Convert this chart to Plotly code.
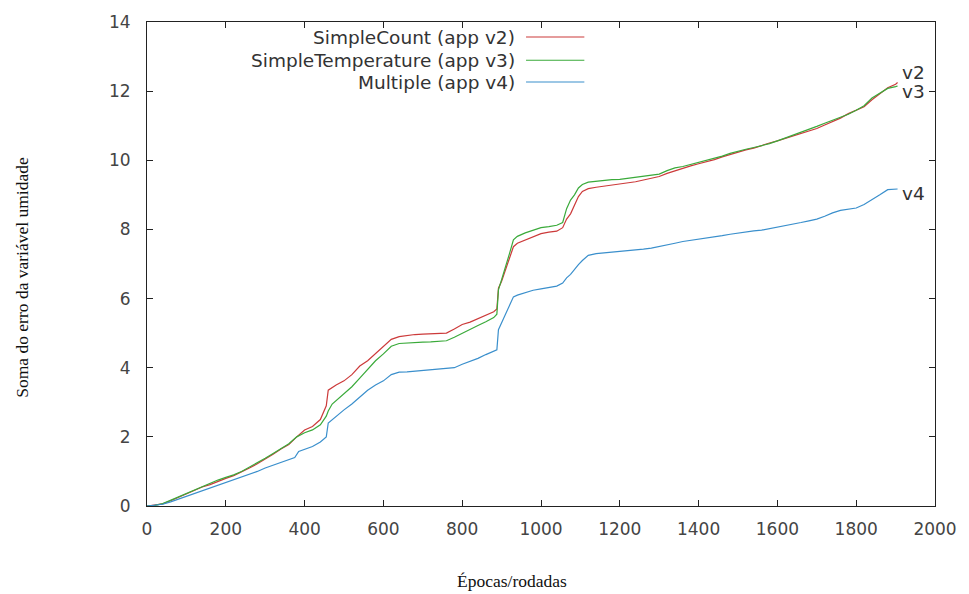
import plotly.graph_objects as go

# ---- data ----
x_v2 = [0,20,40,60,80,100,120,140,160,180,200,220,240,260,280,300,320,340,360,380,400,420,440,455,460,480,500,520,540,560,580,600,620,640,660,680,700,720,740,760,780,800,820,840,860,880,888,892,900,910,920,930,940,960,980,1000,1020,1040,1055,1065,1075,1085,1095,1105,1120,1140,1160,1180,1200,1220,1240,1260,1280,1300,1320,1340,1360,1380,1400,1420,1440,1460,1480,1500,1520,1540,1560,1580,1600,1620,1640,1660,1680,1700,1720,1740,1760,1780,1800,1820,1840,1860,1880,1900,1905]
y_v2 = [0,0.02,0.06,0.15,0.25,0.35,0.45,0.55,0.62,0.72,0.8,0.88,0.98,1.1,1.22,1.35,1.5,1.65,1.78,2.0,2.2,2.3,2.5,2.9,3.35,3.5,3.62,3.8,4.05,4.2,4.4,4.6,4.82,4.9,4.94,4.96,4.97,4.98,4.99,5.0,5.12,5.25,5.32,5.42,5.5,5.62,5.7,6.3,6.5,6.85,7.2,7.5,7.6,7.7,7.8,7.88,7.92,7.95,8.05,8.3,8.45,8.7,8.95,9.1,9.18,9.22,9.25,9.27,9.3,9.35,9.38,9.43,9.48,9.53,9.62,9.7,9.78,9.84,9.9,9.95,10.02,10.1,10.17,10.25,10.3,10.35,10.43,10.5,10.56,10.63,10.7,10.78,10.85,10.92,11.02,11.12,11.22,11.35,11.45,11.55,11.75,11.92,12.1,12.2,12.25]

x_v3 = [0,20,40,60,80,100,120,140,160,180,200,220,240,260,280,300,320,340,360,380,400,420,440,455,460,470,480,500,520,540,560,580,600,620,640,660,680,700,720,740,760,780,800,820,840,860,880,888,892,900,910,920,930,940,960,980,1000,1020,1040,1055,1065,1075,1085,1095,1105,1120,1140,1160,1180,1200,1220,1240,1260,1280,1300,1320,1340,1360,1380,1400,1420,1440,1460,1480,1500,1520,1540,1560,1580,1600,1620,1640,1660,1680,1700,1720,1740,1760,1780,1800,1820,1840,1860,1880,1900,1905]
y_v3 = [0,0.02,0.07,0.17,0.27,0.37,0.47,0.57,0.65,0.75,0.83,0.9,1.0,1.12,1.25,1.38,1.52,1.66,1.8,2.0,2.12,2.2,2.35,2.6,2.75,2.95,3.05,3.25,3.45,3.7,3.95,4.2,4.4,4.62,4.7,4.72,4.73,4.74,4.75,4.76,4.78,4.88,5.0,5.1,5.22,5.33,5.45,5.55,6.25,6.55,6.9,7.3,7.7,7.8,7.9,7.98,8.05,8.08,8.12,8.2,8.6,8.85,9.0,9.2,9.3,9.37,9.4,9.42,9.44,9.45,9.48,9.5,9.53,9.56,9.6,9.7,9.78,9.82,9.88,9.94,10.0,10.05,10.12,10.2,10.27,10.32,10.37,10.42,10.48,10.56,10.64,10.73,10.82,10.9,10.98,11.07,11.15,11.25,11.33,11.45,11.58,11.8,11.95,12.08,12.13,12.15]

x_v4 = [0,20,40,60,80,100,120,140,160,180,200,220,240,260,280,300,320,340,360,375,385,400,420,440,455,460,470,480,500,520,540,560,580,600,620,640,660,680,700,720,740,760,780,800,820,840,860,880,888,892,900,910,920,930,940,960,980,1000,1020,1040,1055,1065,1075,1085,1095,1105,1120,1140,1160,1180,1200,1220,1240,1260,1280,1300,1320,1340,1360,1380,1400,1420,1440,1460,1480,1500,1520,1540,1560,1580,1600,1620,1640,1660,1680,1700,1720,1740,1760,1780,1800,1820,1840,1860,1880,1900,1905]
y_v4 = [0,0.02,0.05,0.12,0.2,0.27,0.35,0.42,0.5,0.6,0.68,0.75,0.82,0.9,1.0,1.1,1.18,1.27,1.33,1.4,1.58,1.65,1.72,1.85,2.0,2.4,2.5,2.6,2.78,2.95,3.15,3.35,3.5,3.62,3.8,3.87,3.88,3.9,3.91,3.92,3.94,3.96,4.0,4.1,4.18,4.27,4.38,4.48,4.52,5.1,5.3,5.6,5.85,6.05,6.1,6.18,6.24,6.28,6.32,6.36,6.45,6.6,6.7,6.85,6.98,7.1,7.25,7.3,7.32,7.33,7.35,7.37,7.4,7.43,7.46,7.5,7.55,7.6,7.65,7.68,7.72,7.75,7.78,7.82,7.86,7.9,7.93,7.96,7.98,8.02,8.06,8.1,8.15,8.2,8.25,8.3,8.38,8.48,8.55,8.58,8.62,8.72,8.85,9.0,9.15,9.17,9.17]

series_names = ["SimpleCount (app v2)", "SimpleTemperature (app v3)", "Multiple (app v4)"]
end_labels = ["v2", "v3", "v4"]
end_label_y = [12.55, 11.98, 9.03]
colors = ["#cc3a3a", "#3aaa3a", "#3a8fcc"]

x_ticks = [0, 200, 400, 600, 800, 1000, 1200, 1400, 1600, 1800, 2000]
y_ticks = [0, 2, 4, 6, 8, 10, 12, 14]

x_title = "Épocas/rodadas"
y_title = "Soma do erro da variável umidade"

# ---- figure ----
fig = go.Figure()
xs = [x_v2, x_v3, x_v4]
ys = [y_v2, y_v3, y_v4]
for xv, yv, nm, c in zip(xs, ys, series_names, colors):
    fig.add_trace(go.Scatter(x=xv, y=yv, mode="lines", name=nm,
                             line=dict(color=c, width=1.2),
                             showlegend=False))

tick_font = dict(family="DejaVu Sans", size=17, color="#444444")
axis_common = dict(showline=True, linecolor="#222222", linewidth=1, mirror="allticks",
                   ticks="inside", ticklen=6, tickcolor="#222222", showgrid=False,
                   zeroline=False, tickfont=tick_font)

fig.update_layout(
    width=969, height=594,
    margin=dict(l=147, r=24, t=22, b=88),
    paper_bgcolor="white", plot_bgcolor="white",
    xaxis=dict(range=[0, 2000], tickvals=x_ticks, ticklabelstandoff=8, **axis_common),
    yaxis=dict(range=[0, 14], tickvals=y_ticks, ticklabelstandoff=12, **axis_common),
    showlegend=False,
)

# gnuplot-style key: text right-aligned, sample line to the right
key_y = [0.969, 0.921, 0.876]
for nm, c, ky in zip(series_names, colors, key_y):
    fig.add_annotation(x=0.469, y=ky, xref="paper", yref="paper", text=nm,
                       showarrow=False, xanchor="right", yanchor="middle",
                       font=dict(family="DejaVu Sans", size=18.5, color="#333333"))
    fig.add_shape(type="line", xref="paper", yref="paper", x0=0.481, x1=0.555,
                  y0=ky, y1=ky, line=dict(color=c, width=1.2))

# end labels
for lab, ly in zip(end_labels, end_label_y):
    fig.add_annotation(x=1912, y=ly, xref="x", yref="y", text=lab, showarrow=False,
                       xanchor="left", yanchor="middle",
                       font=dict(family="DejaVu Sans", size=18.5, color="#333333"))

# axis titles
fig.add_annotation(x=0.463, y=-0.155, xref="paper", yref="paper", text=x_title,
                   showarrow=False, xanchor="center", yanchor="middle",
                   font=dict(family="Liberation Serif", size=17.5, color="#111111"))
fig.add_annotation(x=-0.159, y=0.473, xref="paper", yref="paper", text=y_title,
                   showarrow=False, textangle=-90, xanchor="center", yanchor="middle",
                   font=dict(family="Liberation Serif", size=17.5, color="#111111"))

fig.write_html("out.html")
